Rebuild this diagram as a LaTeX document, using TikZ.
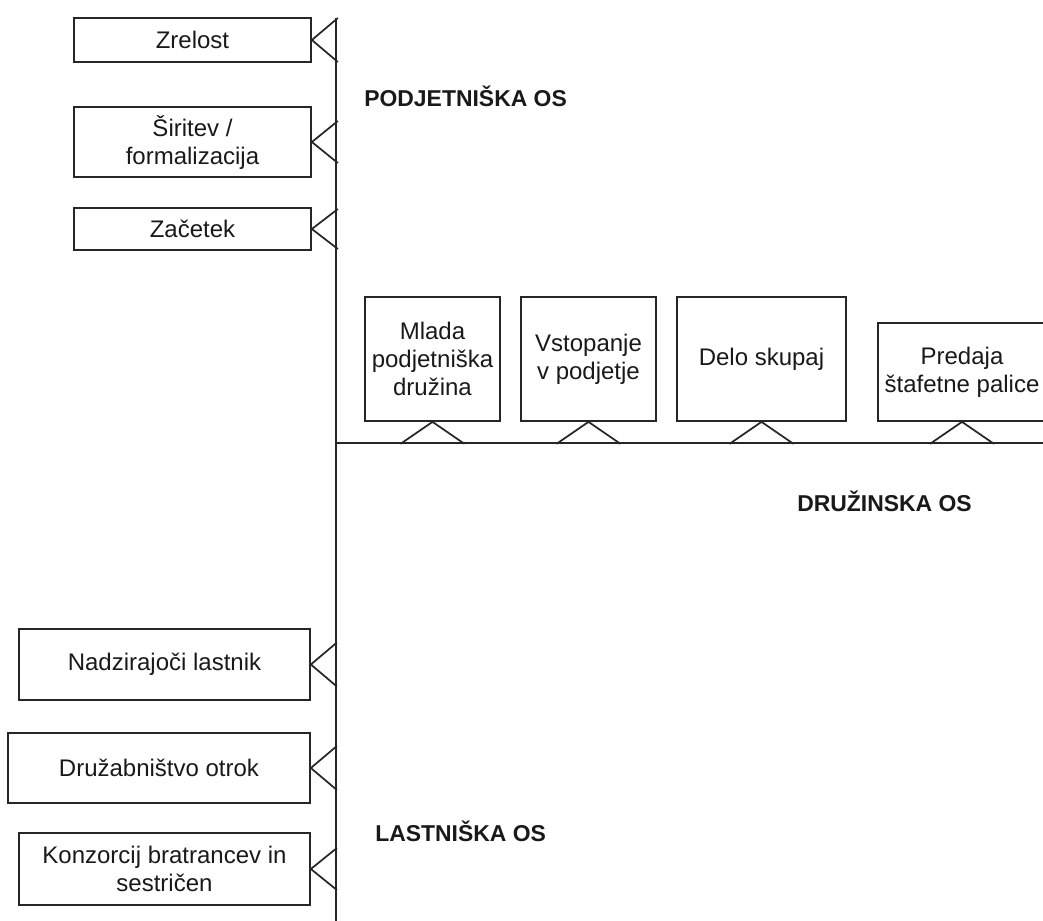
\documentclass[tikz,border=0pt]{standalone}
\usepackage{fontspec}
\setmainfont{Liberation Sans}
\begin{document}
\begin{tikzpicture}[x=0.75pt,y=-0.75pt,
  ln/.style={line width=1.3pt,draw=black!85},
  box/.style={ln,rectangle,inner sep=0pt,align=center,text=black!90,
    font=\fontsize{18}{21}\selectfont},
  sz/.style 2 args={minimum width={#1*0.75pt},minimum height={#2*0.75pt}},
  axislabel/.style={font=\fontsize{17.2}{20}\selectfont\bfseries,text=black!90,inner sep=0pt}]
\useasboundingbox (0,0) rectangle (1043,921);
% axes
\coordinate (vtop) at (336,18);
\coordinate (vbot) at (336,921);
\coordinate (hl) at (336,443);
\coordinate (hr) at (1043,443);
\draw[ln] (vtop) -- (vbot);
\draw[ln] (hl) -- (hr);
% left boxes (enterprise axis)
\node[box,sz={237}{44}] (zre) at (192.5,40) {Zrelost};
\node[box,sz={237}{70}] (sir) at (192.5,142) {Širitev /\\formalizacija};
\node[box,sz={237}{42}] (zac) at (192.5,229) {Začetek};
% left boxes (ownership axis)
\node[box,sz={291}{71}] (nad) at (164.5,664.5) {Nadzirajoči lastnik};
\node[box,sz={302}{70}] (dru) at (159,768) {Družabništvo otrok};
\node[box,sz={291}{72}] (kon) at (164.5,869) {Konzorcij bratrancev in\\sestričen};
% top boxes (family axis)
\node[box,sz={135}{124}] (mla) at (432.5,359) {Mlada\\podjetniška\\družina};
\node[box,sz={135}{124}] (vst) at (588.5,359) {Vstopanje\\v podjetje};
\node[box,sz={169}{124}] (del) at (761.5,359) {Delo skupaj};
\node[box,sz={168}{98}] (pre) at (962,372) {Predaja\\štafetne palice};
% connectors (triangles) to vertical axis
\foreach \n/\h in {zre/22,sir/21,zac/20,nad/22,dru/22,kon/21}{
  \draw[ln] ([shift={(26,-\h)}]\n.east) -- (\n.east) -- ([shift={(26,\h)}]\n.east);
}
% connectors (triangles) to horizontal axis
\foreach \n in {mla,vst,del,pre}{
  \draw[ln] ([shift={(-32,22)}]\n.south) -- (\n.south) -- ([shift={(32,22)}]\n.south);
}
% axis labels
\node[axislabel,anchor=west] (lp) at (364,96) {PODJETNIŠKA OS};
\node[axislabel,anchor=west] (ld) at (797,501) {DRUŽINSKA OS};
\node[axislabel,anchor=west] (ll) at (375,831) {LASTNIŠKA OS};
\end{tikzpicture}
\end{document}
